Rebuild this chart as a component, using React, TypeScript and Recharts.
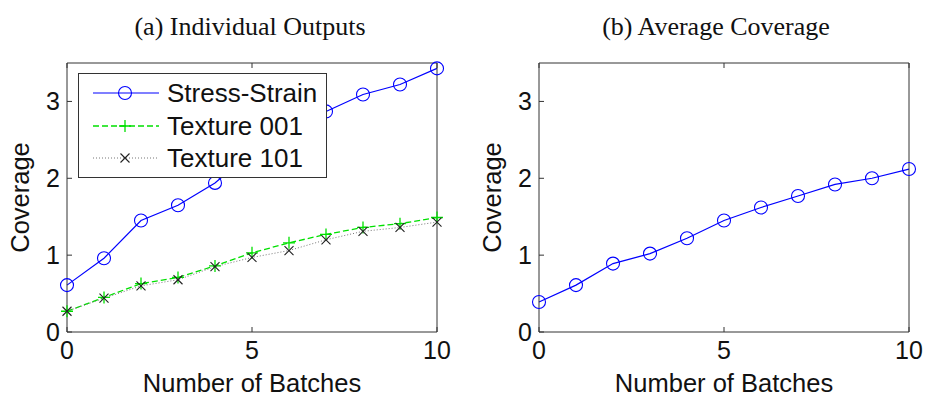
import React from "react"
import { LineChart, Line, XAxis, YAxis } from "recharts"

// batches on the x axis
const batches = [0, 1, 2, 3, 4, 5, 6, 7, 8, 9, 10]
const xTicks = [0, 5, 10]
const yTicks = [0, 1, 2, 3]

// (a) individual outputs
const stressStrain = [0.61, 0.96, 1.45, 1.65, 1.94, 2.35, 2.64, 2.87, 3.09, 3.22, 3.43]
const texture001 = [0.27, 0.45, 0.63, 0.71, 0.86, 1.03, 1.16, 1.27, 1.36, 1.41, 1.49]
const texture101 = [0.27, 0.44, 0.6, 0.68, 0.85, 0.97, 1.06, 1.2, 1.31, 1.36, 1.43]

// (b) average coverage
const averageCoverage = [0.39, 0.61, 0.89, 1.02, 1.22, 1.45, 1.62, 1.77, 1.92, 2.0, 2.12]

const individualData = batches.map((b, i) => ({
    batch: b,
    stress: stressStrain[i],
    t001: texture001[i],
    t101: texture101[i],
}))
const averageData = batches.map((b, i) => ({ batch: b, avg: averageCoverage[i] }))

const SANS = '"Liberation Sans", Arial, sans-serif'
const SERIF = '"Liberation Serif", "Times New Roman", serif'
const AXIS = "#333"
const BLUE = "#0000ff"
const GREEN = "#00e000"
const BLACK = "#222"

const CircleMark = ({ cx, cy }: any) => (
    <circle cx={cx} cy={cy} r={6.5} fill="none" stroke={BLUE} strokeWidth={1.1} />
)
const PlusMark = ({ cx, cy }: any) => (
    <path d={`M${cx - 6},${cy}H${cx + 6}M${cx},${cy - 6}V${cy + 6}`} stroke={GREEN} strokeWidth={1.3} />
)
const CrossMark = ({ cx, cy }: any) => (
    <path
        d={`M${cx - 4.5},${cy - 4.5}L${cx + 4.5},${cy + 4.5}M${cx - 4.5},${cy + 4.5}L${cx + 4.5},${cy - 4.5}`}
        stroke={BLACK}
        strokeWidth={1.1}
    />
)

const dotOf = (Mark: any) => (p: any) => <Mark key={`d-${p.index}`} cx={p.cx} cy={p.cy} />

const legendItems = [
    { name: "Stress-Strain", color: BLUE, dash: undefined, width: 1.2, Mark: CircleMark },
    { name: "Texture 001", color: GREEN, dash: "6 3", width: 1.3, Mark: PlusMark },
    { name: "Texture 101", color: "#777", dash: "1 2", width: 1, Mark: CrossMark },
]

const tickStyle = { fontSize: 25, fill: "#111", fontFamily: SANS }

// box axes like matlab: ticks inside, mirrored on top and right
function axes(yWidth: number, labelOffset: number) {
    return [
        <XAxis
            key="xb"
            xAxisId="bottom"
            dataKey="batch"
            type="number"
            domain={[0, 10]}
            ticks={xTicks}
            height={68}
            stroke={AXIS}
            tickSize={-5}
            tickMargin={14}
            tick={tickStyle}
            label={{
                value: "Number of Batches",
                position: "insideBottom",
                offset: 8,
                style: { fontSize: 25.5, fill: "#111", fontFamily: SANS },
            }}
        />,
        <XAxis
            key="xt"
            xAxisId="top"
            orientation="top"
            dataKey="batch"
            type="number"
            domain={[0, 10]}
            ticks={xTicks}
            height={1}
            stroke={AXIS}
            tickSize={-5}
            tickFormatter={() => ""}
        />,
        <YAxis
            key="yl"
            yAxisId="left"
            type="number"
            domain={[0, 3.5]}
            ticks={yTicks}
            width={yWidth}
            stroke={AXIS}
            tickSize={-5}
            tickMargin={12}
            tick={tickStyle}
            label={{
                value: "Coverage",
                angle: -90,
                position: "insideLeft",
                offset: labelOffset,
                style: { fontSize: 25.5, fill: "#111", fontFamily: SANS, textAnchor: "middle" },
            }}
        />,
        <YAxis
            key="yr"
            yAxisId="right"
            orientation="right"
            type="number"
            domain={[0, 3.5]}
            ticks={yTicks}
            width={1}
            stroke={AXIS}
            tickSize={-5}
            tickFormatter={() => ""}
        />,
    ]
}

const titleStyle = (center: number): React.CSSProperties => ({
    position: "absolute",
    left: center - 200,
    width: 400,
    top: 12,
    lineHeight: "30px",
    textAlign: "center",
    fontFamily: SERIF,
    fontSize: 26,
    color: "#111",
})

export default function App() {
    return (
        <div style={{ position: "absolute", left: 0, top: 0, width: 925, height: 400, background: "#fff" }}>
            <div style={titleStyle(250)}>(a) Individual Outputs</div>
            <div style={titleStyle(716)}>(b) Average Coverage</div>

            <div style={{ position: "absolute", left: 0, top: 0 }}>
                <LineChart width={470} height={400} data={individualData} margin={{ top: 62, right: 32, bottom: 0, left: 0 }}>
                    {axes(67, 20)}
                    <Line
                        xAxisId="bottom"
                        yAxisId="left"
                        dataKey="stress"
                        stroke={BLUE}
                        strokeWidth={1.2}
                        dot={dotOf(CircleMark)}
                        activeDot={false}
                        isAnimationActive={false}
                    />
                    <Line
                        xAxisId="bottom"
                        yAxisId="left"
                        dataKey="t001"
                        stroke={GREEN}
                        strokeWidth={1.3}
                        strokeDasharray="6 3"
                        dot={dotOf(PlusMark)}
                        activeDot={false}
                        isAnimationActive={false}
                    />
                    <Line
                        xAxisId="bottom"
                        yAxisId="left"
                        dataKey="t101"
                        stroke="#777"
                        strokeWidth={1}
                        strokeDasharray="1 2"
                        dot={dotOf(CrossMark)}
                        activeDot={false}
                        isAnimationActive={false}
                    />
                </LineChart>
            </div>

            {/* legend box of panel (a) */}
            <div
                style={{
                    position: "absolute",
                    left: 78,
                    top: 73,
                    width: 249,
                    height: 105,
                    boxSizing: "border-box",
                    border: `1px solid ${AXIS}`,
                    background: "#fff",
                    fontFamily: SANS,
                }}
            >
                {legendItems.map((it, i) => (
                    <div key={it.name} style={{ position: "absolute", left: 0, top: 3 + i * 32.5, height: 32, width: 247 }}>
                        <svg width={72} height={32} style={{ position: "absolute", left: 12, top: 0 }}>
                            <line x1={2} y1={16} x2={68} y2={16} stroke={it.color} strokeWidth={it.width} strokeDasharray={it.dash} />
                            <it.Mark cx={34} cy={16} />
                        </svg>
                        <span style={{ position: "absolute", left: 88, top: 0, lineHeight: "32px", fontSize: 26, color: "#111", whiteSpace: "nowrap" }}>
                            {it.name}
                        </span>
                    </div>
                ))}
            </div>

            <div style={{ position: "absolute", left: 470, top: 0 }}>
                <LineChart width={455} height={400} data={averageData} margin={{ top: 62, right: 15, bottom: 0, left: 0 }}>
                    {axes(69, 22)}
                    <Line
                        xAxisId="bottom"
                        yAxisId="left"
                        dataKey="avg"
                        stroke={BLUE}
                        strokeWidth={1.2}
                        dot={dotOf(CircleMark)}
                        activeDot={false}
                        isAnimationActive={false}
                    />
                </LineChart>
            </div>
        </div>
    )
}
